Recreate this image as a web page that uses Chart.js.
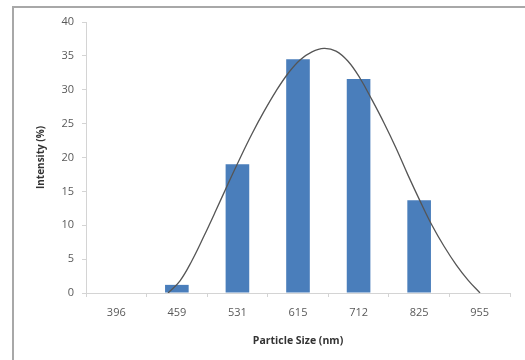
<!DOCTYPE html>
<html>
<head>
<meta charset="utf-8">
<script src="https://cdn.jsdelivr.net/npm/chart.js@4"></script>
<style>
  html, body { margin: 0; padding: 0; background: #fff; }
  #wrap { position: relative; width: 525px; height: 360px; overflow: hidden; }
  #frame { position: absolute; left: 12px; top: 6px; width: 600px; height: 400px;
           border-left: 2px solid #a8a8a8; border-top: 2px solid #a8a8a8; box-sizing: border-box; }
  canvas { position: absolute; left: 0; top: 0; }
</style>
</head>
<body>
<div id="wrap">
  <div id="frame"></div>
  <canvas id="c" width="525" height="360"></canvas>
</div>
<script>
// Categories: particle size (nm)
const sizes = ['396', '459', '531', '615', '712', '825', '955'];
// Intensity (%) per size class
const intensity = [0, 1.2, 19, 34.5, 31.6, 13.7, 0];
// Fitted distribution curve: position along the category axis (0 = first category centre) and value (%)
const curvePos = [0.854, 1.052, 1.250, 1.448, 1.646, 1.844, 2.043, 2.241, 2.439, 2.637, 2.835, 3.033, 3.231, 3.429,
                  3.627, 3.826, 4.024, 4.222, 4.420, 4.618, 4.816, 5.014, 5.212, 5.411, 5.609, 5.807, 6.005];
const curveVal = [0, 1.8, 4.8, 8.4, 12.2, 16.1, 19.9, 23.5, 26.8, 29.8, 32.4, 34.4, 35.6, 36.1,
                  35.7, 34.2, 31.7, 28.5, 25.1, 21.4, 17.4, 13.6, 10.0, 6.9, 4.2, 1.9, 0];
// Y axis ticks
const yTicks = [0, 5, 10, 15, 20, 25, 30, 35, 40];

const curvePoints = curvePos.map((p, i) => ({ x: p, y: curveVal[i] }));

const axisGray = '#d4d4d4';
const labelColor = '#595959';
const fontFam = "'Open Sans', 'Liberation Sans', Arial, sans-serif";

new Chart(document.getElementById('c'), {
  data: {
    labels: sizes,
    datasets: [
      {
        type: 'bar',
        data: intensity,
        backgroundColor: '#4a7ebb',
        borderWidth: 0,
        grouped: false,
        barPercentage: 0.39,
        categoryPercentage: 1,
        xAxisID: 'x',
        yAxisID: 'y',
        order: 2
      },
      {
        type: 'line',
        data: curvePoints,
        borderColor: '#555555',
        borderWidth: 1.3,
        pointRadius: 0,
        tension: 0.4,
        fill: false,
        xAxisID: 'x2',
        yAxisID: 'y',
        order: 1
      }
    ]
  },
  options: {
    responsive: false,
    animation: false,
    devicePixelRatio: 1,
    layout: { padding: { left: 0, top: 22, right: 15, bottom: 0 } },
    plugins: { legend: { display: false }, tooltip: { enabled: false } },
    scales: {
      x: {
        type: 'category',
        offset: true,
        border: { display: true, color: axisGray, width: 1 },
        grid: { display: true, drawOnChartArea: false, drawTicks: true, tickLength: 4, color: axisGray, offset: true },
        ticks: { color: labelColor, font: { family: fontFam, size: 11 }, padding: 9, maxRotation: 0 },
        title: { display: true, text: 'Particle Size (nm)', color: '#333333',
                 font: { family: fontFam, size: 10.5, weight: 'bold' }, padding: { top: 4, bottom: 13 } },
        afterFit: (s) => { s.height = 67; }
      },
      x2: {
        type: 'linear',
        display: false,
        min: -0.5,
        max: sizes.length - 0.5
      },
      y: {
        min: 0,
        max: 40,
        afterBuildTicks: (s) => { s.ticks = yTicks.map(v => ({ value: v })); },
        border: { display: true, color: axisGray, width: 1 },
        grid: { display: true, drawOnChartArea: false, drawTicks: true, tickLength: 4, color: axisGray },
        ticks: { color: labelColor, font: { family: fontFam, size: 11 }, padding: 8 },
        title: { display: true, text: 'Intensity (%)', color: '#333333',
                 font: { family: fontFam, size: 10, weight: 'bold' }, padding: { top: 35, bottom: 0 } },
        afterFit: (s) => { s.width = 86; }
      }
    }
  }
});
</script>
</body>
</html>
